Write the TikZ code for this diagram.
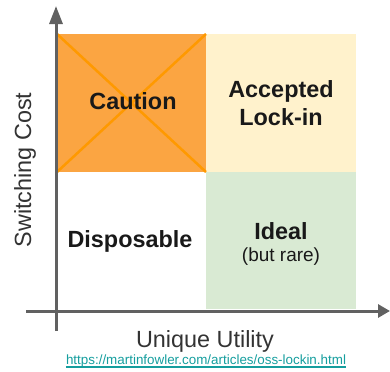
\documentclass[tikz,border=0pt]{standalone}
\usepackage{fontspec}
\setmainfont{Liberation Sans}
\usetikzlibrary{arrows.meta,calc}
\definecolor{cautionfill}{HTML}{FBA542}
\definecolor{xline}{HTML}{FF9900}
\definecolor{lockfill}{HTML}{FFF2CC}
\definecolor{idealfill}{HTML}{D9EAD3}
\definecolor{axisgray}{HTML}{616161}
\definecolor{urlcol}{HTML}{159E9E}
\tikzset{
  quad/.style={draw=none, minimum width=149bp, minimum height=138bp, inner sep=0, outer sep=0},
  biglabel/.style={font=\fontsize{23.4bp}{28bp}\selectfont\bfseries, align=center, text=black!90},
  axislabel/.style={font=\fontsize{23.4bp}{28bp}\selectfont, text=black!80},
  axisline/.style={draw=axisgray, line width=3bp},
}
\begin{document}
\begin{tikzpicture}[x=1bp,y=-1bp]
\useasboundingbox (0,0) rectangle (390,372);
% quadrants
\node[quad, fill=cautionfill, anchor=north west] (q1) at (57,34) {};
\node[quad, fill=lockfill, anchor=north west, minimum width=150bp] (q2) at (206,34) {};
\node[quad, fill=white, anchor=north west, minimum height=137bp] (q3) at (57,172) {};
\node[quad, fill=idealfill, anchor=north west, minimum width=150bp, minimum height=137bp] (q4) at (206,172) {};
% X on caution
\draw[xline, line width=2.5bp] (q1.north west) -- (q1.south east);
\draw[xline, line width=2.5bp] (q1.south west) -- (q1.north east);
% labels
\node[biglabel] (caution) at (133,101) {Caution};
\node[biglabel] (lockin) at (281,103) {Accepted\\Lock-in};
\node[biglabel] (disp) at (130,241) {Disposable};
\node[biglabel] (ideal) at (281,231) {Ideal};
\node[font=\fontsize{19bp}{22bp}\selectfont, text=black!90] (rare) at (281,257) {(but rare)};
% axes
\coordinate (ybot) at (56,331);
\coordinate (ytop) at (56,6);
\coordinate (xleft) at (26,311);
\coordinate (xright) at (390,311);
\draw[axisline, -{Triangle[length=18bp, width=13bp]}] (ybot) -- (ytop);
\draw[axisline, -{Triangle[length=12bp, width=13bp]}] (xleft) -- (xright);
\node[axislabel, rotate=90] (ylab) at (25,170) {Switching Cost};
\node[axislabel] (xlab) at (205,341) {Unique Utility};
\node[font=\fontsize{13.4bp}{15bp}\selectfont, text=urlcol, inner sep=0] (url) at (206,361) {https://martinfowler.com/articles/oss-lockin.html};
\draw[urlcol, line width=1.6bp] ($(url.base west)+(0,2.8)$) -- ($(url.base east)+(0,2.8)$);
\end{tikzpicture}
\end{document}
